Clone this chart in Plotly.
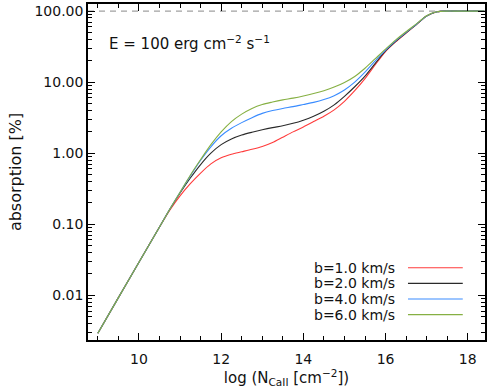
import plotly.graph_objects as go

# ---- data ----
x_logN = [9.0, 9.5, 10.0, 10.5, 10.75, 11.0, 11.25, 11.5, 11.75, 12.0, 12.25, 12.5,
          12.75, 13.0, 13.25, 13.5, 13.75, 14.0, 14.25, 14.5, 14.75, 15.0, 15.25,
          15.5, 15.75, 16.0, 16.25, 16.5, 16.75, 17.0, 17.25, 17.5, 17.75, 18.4]

red_b1 = [0.00292, 0.00925, 0.0292, 0.0912, 0.158, 0.251, 0.372, 0.525, 0.708, 0.861,
          0.966, 1.047, 1.135, 1.245, 1.413, 1.679, 1.995, 2.344, 2.786, 3.311, 4.074,
          5.370, 7.586, 11.22, 17.58, 26.92, 37.15, 48.98, 64.57, 85.1, 97.7, 100, 100, 100]
black_b2 = [0.00292, 0.00925, 0.0292, 0.0912, 0.162, 0.275, 0.447, 0.692, 1.0, 1.318,
            1.585, 1.799, 1.972, 2.138, 2.291, 2.427, 2.630, 2.917, 3.311, 3.890, 4.786,
            6.310, 8.610, 12.16, 18.41, 27.54, 37.58, 49.55, 64.86, 85.1, 97.7, 100, 100, 100]
blue_b4 = [0.00292, 0.00925, 0.0292, 0.0912, 0.162, 0.282, 0.479, 0.794, 1.230, 1.758,
           2.239, 2.692, 3.162, 3.631, 3.981, 4.266, 4.519, 4.842, 5.188, 5.689, 6.457,
           7.762, 10.0, 13.80, 19.95, 28.18, 38.46, 50.12, 65.31, 85.5, 97.7, 100, 100, 100]
green_b6 = [0.00292, 0.00925, 0.0292, 0.0912, 0.162, 0.282, 0.490, 0.813, 1.318, 1.995,
            2.786, 3.548, 4.266, 4.842, 5.248, 5.623, 5.957, 6.383, 6.918, 7.586, 8.511,
            9.886, 12.02, 15.67, 21.38, 29.17, 39.36, 51.29, 66.07, 86.1, 97.7, 100, 100, 100]

series_labels = ["b=1.0 km/s", "b=2.0 km/s", "b=4.0 km/s", "b=6.0 km/s"]
series_values = [red_b1, black_b2, blue_b4, green_b6]
series_colors = ["#ff3b3b", "#2a2a2a", "#3a8cff", "#86b043"]

y_tickvals = [0.01, 0.1, 1, 10, 100]
y_ticktext = ["0.01", "0.10", "1.00", "10.00", "100.00"]
x_tickvals = [10, 12, 14, 16, 18]
saturation_level = 100

FONT = "DejaVu Sans"

fig = go.Figure()
for lab, vals, col in zip(series_labels, series_values, series_colors):
    fig.add_trace(go.Scatter(x=x_logN, y=vals, mode="lines", name=lab,
                             line=dict(color=col, width=1.1, shape="spline", smoothing=0.8),
                             showlegend=False, hoverinfo="skip"))

# dashed 100% line
fig.add_shape(type="line", xref="paper", x0=0, x1=1, yref="y",
              y0=saturation_level, y1=saturation_level,
              line=dict(color="#888888", width=1, dash="6px,5px"), layer="below")

# legend: text on the left, line sample on the right
row_top, row_step = 0.215, 0.0465
for i, (lab, col) in enumerate(zip(series_labels, series_colors)):
    yp = row_top - i * row_step
    fig.add_annotation(xref="paper", yref="paper", x=0.778, y=yp, text=lab,
                       showarrow=False, xanchor="right", yanchor="middle",
                       font=dict(family=FONT, size=14, color="#111111"))
    fig.add_shape(type="line", xref="paper", yref="paper", x0=0.806, x1=0.944,
                  y0=yp, y1=yp, line=dict(color=col, width=1.2))

fig.add_annotation(xref="paper", yref="paper", x=0.047, y=0.885,
                   text="E = 100 erg cm<sup>−2</sup> s<sup>−1</sup>",
                   showarrow=False, xanchor="left", yanchor="middle",
                   font=dict(family=FONT, size=15, color="#111111"))

axis_common = dict(showline=True, linecolor="black", linewidth=1.5, mirror="allticks",
                   ticks="inside", ticklen=7, tickwidth=1, tickcolor="black",
                   showgrid=False, zeroline=False, automargin=False,
                   tickfont=dict(family=FONT, size=14, color="#111111"))

minor_y = [m * 10 ** e for e in range(-3, 3) for m in range(2, 10)]
minor_y = [v for v in minor_y if 0.0023 < v < 126]

fig.update_xaxes(range=[8.76, 18.42], tickvals=x_tickvals,
                 ticktext=[str(v) for v in x_tickvals], ticklabelstandoff=5,
                 minor=dict(dtick=0.5, ticks="inside", ticklen=4, tickcolor="black", showgrid=False),
                 title=dict(text="log (N<sub>CaII</sub> [cm<sup>−2</sup>])",
                            font=dict(family=FONT, size=15, color="#111111"), standoff=5),
                 **axis_common)
fig.update_yaxes(type="log", range=[-2.63, 2.1], tickvals=y_tickvals, ticktext=y_ticktext,
                 minor=dict(tickvals=minor_y, ticks="inside", ticklen=4, tickcolor="black", showgrid=False),
                 title=dict(text="absorption [%]",
                            font=dict(family=FONT, size=16, color="#111111"), standoff=9),
                 **axis_common)

fig.update_layout(width=491, height=392, margin=dict(l=88, r=6, t=4, b=52),
                  paper_bgcolor="white", plot_bgcolor="white", hovermode=False,
                  font=dict(family=FONT, size=14, color="#111111"))

fig.write_html("out.html", config={"displayModeBar": False},
               post_script="document.body.style.margin='0px';document.body.style.padding='0px';")
